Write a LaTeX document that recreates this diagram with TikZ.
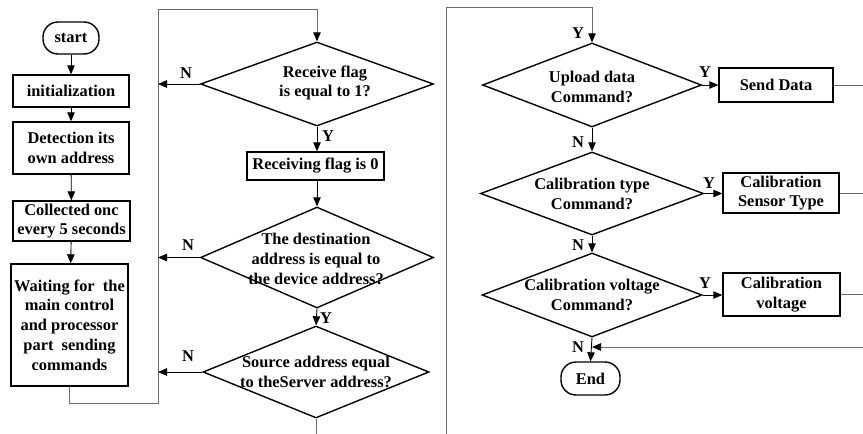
\documentclass[tikz,border=0pt]{standalone}
\usepackage{fontspec}
\setmainfont{Liberation Serif}
\usetikzlibrary{shapes.geometric,arrows.meta}

\begin{document}
\begin{tikzpicture}[x=1pt,y=1pt,
  font=\fontsize{16.4}{19.8}\selectfont\bfseries,
  proc/.style={draw=black, line width=1.4pt, inner sep=0pt, align=center},
  term/.style={proc, rounded corners=15pt},
  dia/.style={draw=black, line width=1.4pt, diamond, inner sep=0pt},
  dtxt/.style={inner sep=0pt, align=center},
  lab/.style={inner sep=0pt},
  tip/.style={-{Triangle[length=9pt,width=7.5pt,color=black]}},
  arr/.style={draw=black, line width=0.9pt, tip},
  gline/.style={draw=black!58, line width=1pt},
]
\useasboundingbox (0,0) rectangle (863,-434);

% left column
\node[term, minimum width=56pt, minimum height=32pt] (start) at (71,-38) {start};
\node[proc, minimum width=116pt, minimum height=32pt] (init) at (71,-91) {initialization};
\node[proc, minimum width=116pt, minimum height=52pt] (detect) at (71,-148) {Detection its\\own address};
\node[proc, minimum width=117pt, minimum height=40pt] (collect) at (71.5,-221) {Collected onc\\every 5 seconds};
\node[proc, minimum width=117pt, minimum height=122pt] (wait) at (69.5,-325)
  {Waiting for\ \ the\\main control\\and processor\\part\ \ sending\\commands};

\draw[arr] (start) -- (init);
\draw[arr] (init) -- (detect);
\draw[arr] (detect) -- (collect);
\draw[arr] (collect) -- (wait);

% middle column
\node[dia, minimum width=233pt, minimum height=84pt] (d1) at (317,-84) {};
\node[dtxt] (d1t) at (325,-83) {Receive flag\\is equal to 1?};
\node[proc, minimum width=137pt, minimum height=28pt] (recv) at (315.5,-166) {Receiving flag is 0};
\node[dia, minimum width=233pt, minimum height=101pt] (d2) at (317,-257.5) {};
\node[dtxt] (d2t) at (316,-259) {The destination\\address is equal to\\the device address?};
\node[dia, minimum width=226pt, minimum height=92pt] (d3) at (316,-372) {};
\node[dtxt] (d3t) at (316,-372) {Source address equal\\to theServer address?};

\coordinate (l1) at (158,-403);
\coordinate (l2) at (158,-9);
\coordinate (nl1) at (158,-84);
\coordinate (nl2) at (158,-257.5);
\coordinate (nl3) at (158,-372);
\coordinate (mbot) at (317,-434);

\draw[gline] (wait.south) |- (l1) -- (l2);
\draw[gline, tip] (l2) -| (d1.north);
\draw[arr] (d1.west) -- (nl1);
\draw[arr] (d2.west) -- (nl2);
\draw[arr] (d3.west) -- (nl3);
\draw[arr] (d1.south) -- (d1.south |- recv.north);
\draw[arr] (recv.south -| d2.north) -- (d2.north);
\draw[arr] (d2.south) -- (d3.north);
\draw[gline] (d3.south) -- (d3.south |- mbot);

\node[lab] at (186,-73) {N};
\node[lab] at (188,-245) {N};
\node[lab] at (188,-356) {N};
\node[lab] at (328,-136) {Y};
\node[lab] at (326,-318) {Y};

% right column
\node[dia, minimum width=219pt, minimum height=84pt] (d4) at (592,-85) {};
\node[dtxt] (d4t) at (592,-87) {Upload data\\Command?};
\node[dia, minimum width=223pt, minimum height=83pt] (d5) at (592,-193.5) {};
\node[dtxt] (d5t) at (592,-194) {Calibration type\\Command?};
\node[dia, minimum width=220pt, minimum height=84pt] (d6) at (592,-295) {};
\node[dtxt] (d6t) at (592,-295) {Calibration voltage\\Command?};
\node[term, minimum width=59pt, minimum height=33pt] (end) at (590.5,-378.5) {End};

\node[proc, minimum width=114pt, minimum height=34pt] (send) at (776,-85) {Send Data};
\node[proc, minimum width=116pt, minimum height=40pt] (calsens) at (781,-193) {Calibration\\Sensor Type};
\node[proc, minimum width=117pt, minimum height=43pt] (calvolt) at (781.5,-294.5) {Calibration\\voltage};

\coordinate (r1) at (446,-434);
\coordinate (r2) at (446,-7);
\coordinate (edge) at (863,0);
\coordinate (ret) at (863,-347);
\coordinate (join) at (592,-347);

\draw[gline] (r1) -- (r2);
\draw[gline, tip] (r2) -| (d4.north);
\draw[arr] (d4.east) -- (send.west);
\draw[arr] (d5.east) -- (d5.east -| calsens.west);
\draw[arr] (d6.east) -- (d6.east -| calvolt.west);
\draw[arr] (d4.south) -- (d5.north);
\draw[arr] (d5.south) -- (d6.north);
\draw[arr] (d6.south) -- (end.north);
\draw[gline] (send.east) -- (send.east -| edge);
\draw[gline] (calsens.east) -- (calsens.east -| edge);
\draw[gline] (calvolt.east) -- (calvolt.east -| edge);
\draw[gline, tip] (ret) -- (join);

\node[lab] at (578,-33) {Y};
\node[lab] at (578,-142) {N};
\node[lab] at (578,-245) {N};
\node[lab] at (578,-347) {N};
\node[lab] at (705,-72) {Y};
\node[lab] at (709,-183) {Y};
\node[lab] at (705,-283) {Y};
\end{tikzpicture}
\end{document}
